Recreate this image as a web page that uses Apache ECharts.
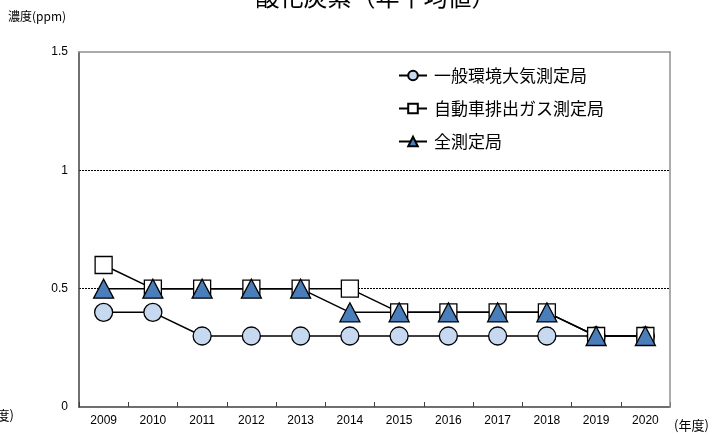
<!DOCTYPE html>
<html><head><meta charset="utf-8">
<script src="https://cdn.jsdelivr.net/npm/echarts@6/dist/echarts.min.js"></script>
<style>html,body{margin:0;padding:0;background:#fff}#c{width:727px;height:437px}</style>
</head><body><div id="c"></div>
<script>
const years = ['2009','2010','2011','2012','2013','2014','2015','2016','2017','2018','2019','2020'];
const seriesNames = ['一般環境大気測定局','自動車排出ガス測定局','全測定局'];
const ambient = [0.4,0.4,0.3,0.3,0.3,0.3,0.3,0.3,0.3,0.3,0.3,0.3];
const roadside = [0.6,0.5,0.5,0.5,0.5,0.5,0.4,0.4,0.4,0.4,0.3,0.3];
const allStations = [0.5,0.5,0.5,0.5,0.5,0.4,0.4,0.4,0.4,0.4,0.3,0.3];
const titleText = '一酸化炭素（年平均値）';
const yName = '濃度(ppm)';
const xName = '(年度)';

const jp = '"Noto Sans CJK JP", sans-serif';
const chart = echarts.init(document.getElementById('c'), null, {renderer:'canvas'});
const lineCommon = { color:'#000', width:1.5 };
chart.setOption({
  animation:false,
  backgroundColor:'#fff',
  title:{ text:titleText, left:'center', top:-20, textStyle:{ fontFamily:jp, fontSize:24, fontWeight:'normal', color:'#000' } },
  legend:{
    orient:'vertical', left:393, top:62, itemGap:16, itemWidth:28, itemHeight:12,
    textStyle:{ fontFamily:jp, fontSize:17, color:'#000', padding:[0,0,0,2] },
    data:seriesNames
  },
  grid:{ left:79, right:57, top:52, bottom:30, show:false },
  xAxis:[{
    type:'category', data:years, boundaryGap:true,
    axisLine:{ lineStyle:{ color:'#404040', width:1.5 } },
    axisTick:{ show:true, inside:true, length:5, lineStyle:{ color:'#404040' } },
    axisLabel:{ fontFamily:'"Liberation Sans", sans-serif', fontSize:12, color:'#000', margin:8 },
    splitLine:{ show:false }
  },{
    type:'category', data:years, position:'top', z:10,
    axisLine:{ show:true, onZero:false, lineStyle:{ color:'#909090', width:1.5 } },
    axisTick:{ show:false }, axisLabel:{ show:false }, splitLine:{ show:false }
  }],
  yAxis:[{
    type:'value', min:0, max:1.5, interval:0.5,
    axisLine:{ show:true, lineStyle:{ color:'#404040', width:1.5 } },
    axisTick:{ show:false },
    axisLabel:{ fontFamily:'"Liberation Sans", sans-serif', fontSize:12, color:'#000', margin:11 },
    splitLine:{ show:true, lineStyle:{ color:['rgba(0,0,0,0)','#000','#000','rgba(0,0,0,0)'], width:1, type:[2,1] } }
  },{
    type:'value', min:0, max:1.5, interval:0.5, position:'right', z:10,
    axisLine:{ show:true, onZero:false, lineStyle:{ color:'#909090', width:1.5 } },
    axisTick:{ show:false }, axisLabel:{ show:false }, splitLine:{ show:false }
  }],
  graphic:[
    { type:'text', left:8, top:10, style:{ text:yName, font:'12px ' + jp, fill:'#000' } },
    { type:'text', left:674, top:419, style:{ text:xName, font:'13px ' + jp, fill:'#000' } },
    { type:'text', right:713, top:409, style:{ text:'(年度)', font:'13px ' + jp, fill:'#000' } }
  ],
  series:[
    { name:seriesNames[0], type:'line', data:ambient, symbol:'circle', symbolSize:18,
      itemStyle:{ color:'#c6d9f1', borderColor:'#000', borderWidth:1.3 }, lineStyle:lineCommon },
    { name:seriesNames[1], type:'line', data:roadside, symbol:'rect', symbolSize:17,
      itemStyle:{ color:'#fff', borderColor:'#000', borderWidth:1.3 }, lineStyle:lineCommon },
    { name:seriesNames[2], type:'line', data:allStations, symbol:'triangle', symbolSize:[20,19],
      itemStyle:{ color:'#4a7ebb', borderColor:'#000', borderWidth:1.3 }, lineStyle:lineCommon }
  ]
});
</script></body></html>
